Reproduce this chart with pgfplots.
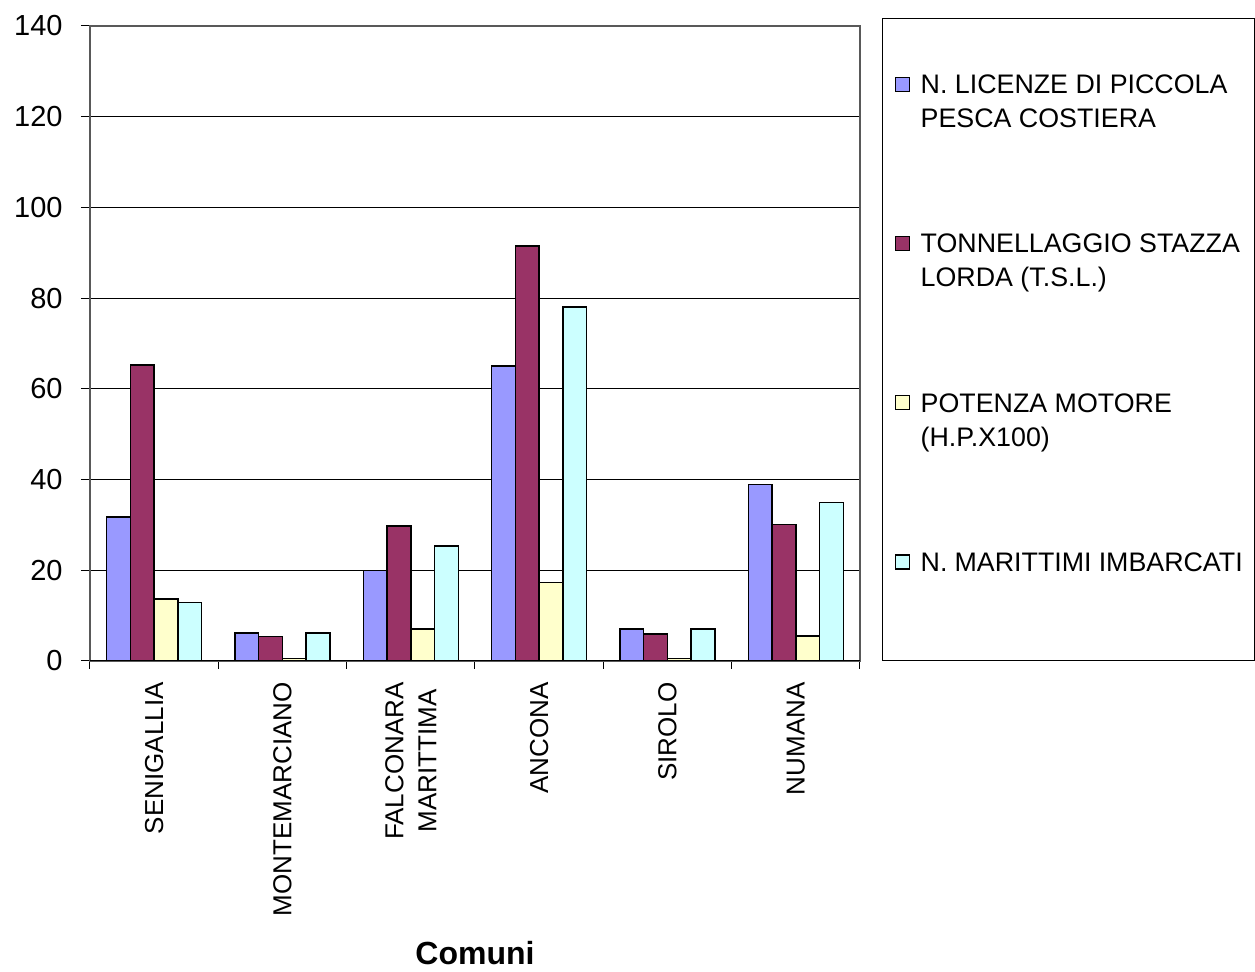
\documentclass[border=0pt]{standalone}
\usepackage{pgfplots}
\pgfplotsset{compat=1.18}
\usepackage{fontspec}
\setmainfont{Liberation Sans}
\definecolor{cA}{HTML}{9999FF}
\definecolor{cB}{HTML}{993366}
\definecolor{cC}{HTML}{FFFFCC}
\definecolor{cD}{HTML}{CCFFFF}
\newcommand{\legtext}[2]{\parbox[b][#1][t]{161pt}{#2}}
\pgfplotsset{
  legtop/.style={legend image code/.code={\draw[##1, line width=0.6pt] (0pt,69.8pt) rectangle (7pt,76.8pt);}},
  legbot/.style={legend image code/.code={\draw[##1, line width=0.6pt] (0pt,16.2pt) rectangle (7pt,23.2pt);}},
}
\begin{document}
\begin{tikzpicture}
\begin{axis}[
  at={(0,0)}, anchor=south west,
  scale only axis, width=385pt, height=317.5pt,
  xmin=-0.5, xmax=5.5, ymin=0, ymax=140,
  ybar=0pt, bar width=11.875pt,
  ytick={0,20,...,140},
  xtick={0,...,5},
  xticklabels={SENIGALLIA, MONTEMARCIANO, {FALCONARA\\MARITTIMA}, ANCONA, SIROLO, NUMANA},
  minor xtick={-0.5,0.5,...,5.5},
  major x tick style={draw=none},
  tick align=outside,
  major tick length=4.5pt, minor tick length=4pt,
  xtick pos=bottom, ytick pos=left,
  tick style={black, line width=0.5pt},
  ymajorgrids=true,
  grid style={black, line width=0.5pt},
  axis line style={gray!70!black, line width=0.6pt},
  /pgf/number format/assume math mode=true,
  yticklabel style={font=\fontsize{14.5}{17}\selectfont, anchor=east, inner sep=0pt, xshift=-9pt},
  xticklabel style={font=\fontsize{13}{16.5}\selectfont, yshift=-6pt, rotate=90, anchor=east, align=center, inner sep=0pt},
  xlabel={\textbf{Comuni}},
  xlabel style={font=\fontsize{16}{19}\selectfont, at={(axis description cs:0.5,0)}, anchor=center, yshift=-146pt},
  every axis plot/.append style={draw=black, line width=0.75pt},
  legend style={at={(1.0286,1.0126)}, anchor=north west, draw=black, line width=0.5pt,
    inner xsep=6pt, inner ysep=28.2pt, row sep=0pt, column sep=5.5pt,
    font=\fontsize{13.4}{17}\selectfont,
    nodes={inner sep=0pt, anchor=base west}},
]
\addplot[fill=cA, legtop]
  coordinates {(0,31.8) (1,6.2) (2,19.9) (3,65.0) (4,7.0) (5,38.9)};
\addlegendentry{\legtext{78.1pt}{N. LICENZE DI PICCOLA\newline PESCA COSTIERA}}
\addplot[fill=cB, legtop]
  coordinates {(0,65.3) (1,5.4) (2,29.8) (3,91.5) (4,5.9) (5,30.1)};
\addlegendentry{\legtext{78.1pt}{TONNELLAGGIO STAZZA\newline LORDA (T.S.L.)}}
\addplot[fill=cC, legtop]
  coordinates {(0,13.7) (1,0.6) (2,7.1) (3,17.3) (4,0.6) (5,5.5)};
\addlegendentry{\legtext{78.1pt}{POTENZA MOTORE\newline (H.P.X100)}}
\addplot[fill=cD, legbot]
  coordinates {(0,12.9) (1,6.2) (2,25.4) (3,78.1) (4,7.0) (5,34.9)};
\addlegendentry{\legtext{24.5pt}{N. MARITTIMI IMBARCATI}}
\draw[black, line width=0.75pt] (rel axis cs:0,0) -- (rel axis cs:1,0);
\end{axis}
\pgfresetboundingbox
\path[use as bounding box] (-45pt,-155.5pt) rectangle (582.5pt,330.5pt);
\end{tikzpicture}
\end{document}
